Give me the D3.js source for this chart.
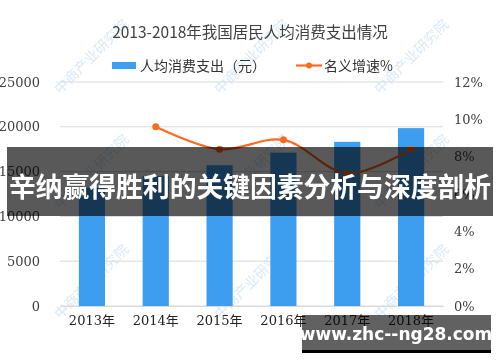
<!DOCTYPE html>
<html>
<head>
<meta charset="utf-8">
<script src="https://cdn.jsdelivr.net/npm/d3@7"></script>
<style>
  body { margin: 0; background: #fff; }
  svg text { font-family: "Noto Sans CJK SC", "DejaVu Sans", sans-serif; }
</style>
</head>
<body>
<div id="chart"></div>
<script>
// data
const years = ["2013年", "2014年", "2015年", "2016年", "2017年", "2018年"];
const spending = [13220, 14491, 15712, 17111, 18322, 19853];
const growth = [null, 9.6, 8.4, 8.9, 7.1, 8.4];
const leftTicks = [0, 5000, 10000, 15000, 20000, 25000];
const rightTicks = [0, 2, 4, 6, 8, 10, 12];
const title = "2013-2018年我国居民人均消费支出情况";
const banner = "辛纳赢得胜利的关键因素分析与深度剖析";
const site = "www.zhc--ng28.com";

const W = 500, H = 362;
const margin = { top: 82, right: 57, bottom: 56, left: 60 },
    width = W - margin.left - margin.right,
    height = H - margin.top - margin.bottom;

const svg = d3.select("#chart").append("svg")
    .attr("width", W).attr("height", H);

// watermark
const wm = svg.append("g").attr("fill", "#9cc6ea").attr("opacity", 0.4);
[[95, 60], [255, 60], [415, 60], [95, 175], [255, 175], [415, 175], [95, 285], [255, 285], [415, 285]].forEach(p => {
    wm.append("text")
        .attr("transform", `translate(${p[0]},${p[1]}) rotate(-45)`)
        .attr("text-anchor", "middle")
        .attr("font-size", 14)
        .text("中商产业研究院");
});

const g = svg.append("g")
    .attr("transform", `translate(${margin.left},${margin.top})`);

const x = d3.scaleBand().domain(years).range([0, width]).paddingInner(0.59).paddingOuter(0.295);
const y = d3.scaleLinear().domain([0, 25000]).range([height, 0]);
const y2 = d3.scaleLinear().domain([0, 12]).range([height, 0]);

// grid lines
g.selectAll(".grid").data(leftTicks).enter().append("line")
    .attr("x1", 0).attr("x2", width)
    .attr("y1", d => y(d)).attr("y2", d => y(d))
    .attr("stroke", "#d9d9d9").attr("stroke-width", 1);

// left axis
const yAxis = g.append("g")
    .call(d3.axisLeft(y).tickValues(leftTicks).tickSize(0).tickPadding(20).tickFormat(d3.format("d")));
yAxis.select(".domain").remove();
yAxis.selectAll("text").attr("font-size", 13).attr("fill", "#404040")
    .style("font-family", "'DejaVu Serif', serif");

// right axis
const y2Axis = g.append("g")
    .attr("transform", `translate(${width},0)`)
    .call(d3.axisRight(y2).tickValues(rightTicks).tickSize(0).tickPadding(11).tickFormat(d => d + "%"));
y2Axis.select(".domain").remove();
y2Axis.selectAll("text").attr("font-size", 13).attr("fill", "#404040")
    .style("font-family", "'DejaVu Serif', serif");

// bars
g.selectAll("rect.bar").data(spending).enter().append("rect")
    .attr("class", "bar")
    .attr("x", (d, i) => x(years[i]))
    .attr("y", d => y(d))
    .attr("width", x.bandwidth())
    .attr("height", d => height - y(d))
    .attr("fill", "#3d9ef0");

// x axis
const xAxis = g.append("g")
    .attr("transform", `translate(0,${height})`)
    .call(d3.axisBottom(x).tickSize(0).tickPadding(10));
xAxis.select(".domain").attr("stroke", "#d9d9d9");
xAxis.selectAll("text").attr("font-size", 13).attr("fill", "#222")
    .style("font-family", "'DejaVu Serif', 'Noto Sans CJK SC', serif");

// growth line
const pts = growth.map((v, i) => [years[i], v]).filter(d => d[1] !== null);
const line = d3.line()
    .x(d => x(d[0]) + x.bandwidth() / 2)
    .y(d => y2(d[1]))
    .curve(d3.curveCatmullRom.alpha(0.5));
g.append("path").datum(pts)
    .attr("d", line)
    .attr("fill", "none")
    .attr("stroke", "#fc6a1e")
    .attr("stroke-width", 2.2);
g.selectAll("circle.pt").data(pts).enter().append("circle")
    .attr("cx", d => x(d[0]) + x.bandwidth() / 2)
    .attr("cy", d => y2(d[1]))
    .attr("r", 3.5)
    .attr("fill", "#fc6a1e");

// title
svg.append("text")
    .attr("x", 250).attr("y", 38)
    .attr("text-anchor", "middle")
    .attr("font-size", 15.5).attr("fill", "#404040")
    .text(title);

// legend
svg.append("rect").attr("x", 112).attr("y", 62).attr("width", 24).attr("height", 7).attr("fill", "#3d9ef0");
svg.append("text").attr("x", 140).attr("y", 71).attr("font-size", 14).attr("fill", "#333").text("人均消费支出（元）");
svg.append("line").attr("x1", 296).attr("x2", 322).attr("y1", 65.5).attr("y2", 65.5)
    .attr("stroke", "#fc6a1e").attr("stroke-width", 2.2);
svg.append("circle").attr("cx", 309).attr("cy", 65.5).attr("r", 3).attr("fill", "#fc6a1e");
svg.append("text").attr("x", 324).attr("y", 71).attr("font-size", 14).attr("fill", "#333").text("名义增速%");

// overlay banner
svg.append("rect").attr("x", 7).attr("y", 147).attr("width", 486).attr("height", 69)
    .attr("fill", "#000").attr("opacity", 0.65);
svg.append("text")
    .attr("x", 250).attr("y", 197)
    .attr("text-anchor", "middle")
    .attr("font-size", 27).attr("font-weight", "bold").attr("fill", "#fff")
    .attr("textLength", 482).attr("lengthAdjust", "spacingAndGlyphs")
    .text(banner);

// site box
svg.append("rect").attr("x", 302).attr("y", 315).attr("width", 189).attr("height", 36)
    .attr("fill", "#000").attr("opacity", 0.62);
svg.append("rect").attr("x", 302).attr("y", 350).attr("width", 189).attr("height", 3)
    .attr("fill", "#000");
svg.append("text")
    .attr("x", 396).attr("y", 340)
    .attr("text-anchor", "middle")
    .attr("font-size", 17).attr("font-weight", "bold").attr("fill", "#fff")
    .style("font-family", "'DejaVu Sans', sans-serif")
    .text(site);
</script>
</body>
</html>
